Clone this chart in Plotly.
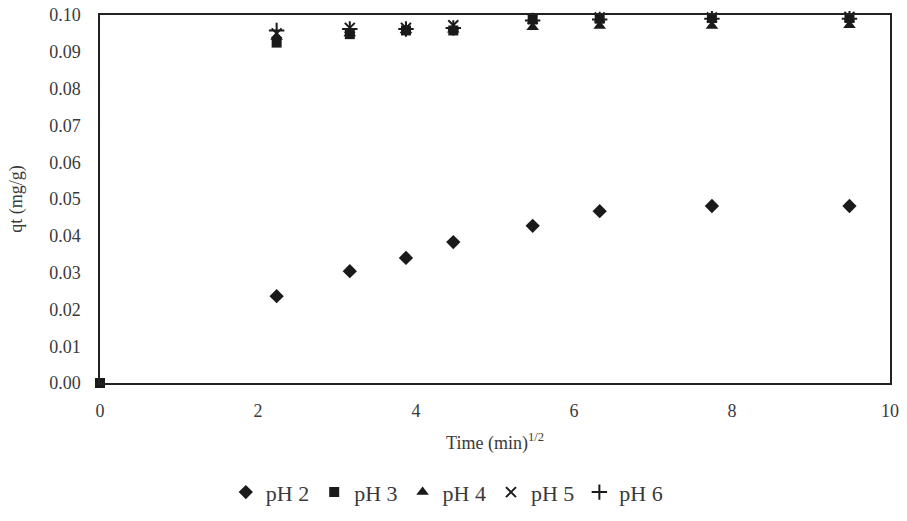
import plotly.graph_objects as go

x_time = [0, 2.236, 3.162, 3.873, 4.472, 5.477, 6.325, 7.746, 9.487]
x_top = [2.236, 3.162, 3.873, 4.472, 5.477, 6.325, 7.746, 9.487]
ph2 = [0.0236, 0.0304, 0.0340, 0.0383, 0.0427, 0.0467, 0.0481, 0.0481]
ph3 = [0.0, 0.0925, 0.0948, 0.0958, 0.0958, 0.0988, 0.0990, 0.0992, 0.0992]
ph4 = [0.0940, 0.0950, 0.0958, 0.0960, 0.0967, 0.0970, 0.0970, 0.0972]
ph5 = [0.0950, 0.0965, 0.0965, 0.0972, 0.0990, 0.0993, 0.0993, 0.0995]
ph6 = [0.0958, 0.0962, 0.0962, 0.0965, 0.0985, 0.0988, 0.0990, 0.0990]
y_ticks = [0.00, 0.01, 0.02, 0.03, 0.04, 0.05, 0.06, 0.07, 0.08, 0.09, 0.10]
x_ticks = [0, 2, 4, 6, 8, 10]

FONT = "Liberation Serif"
C = "#1a1a1a"
TXT = "#3a3a3a"

fig = go.Figure()
fig.add_trace(go.Scatter(x=x_top, y=ph2, mode="markers", name="pH 2",
                         marker=dict(symbol="diamond", size=11, color=C), cliponaxis=False))
fig.add_trace(go.Scatter(x=x_time, y=ph3, mode="markers", name="pH 3",
                         marker=dict(symbol="square", size=10, color=C), cliponaxis=False))
fig.add_trace(go.Scatter(x=x_top, y=ph4, mode="markers", name="pH 4",
                         marker=dict(symbol="triangle-up", size=11, color=C), cliponaxis=False))
fig.add_trace(go.Scatter(x=x_top, y=ph5, mode="markers", name="pH 5",
                         marker=dict(symbol="x-thin", size=10, color=C,
                                     line=dict(width=2, color=C)), cliponaxis=False))
fig.add_trace(go.Scatter(x=x_top, y=ph6, mode="markers", name="pH 6",
                         marker=dict(symbol="cross-thin", size=11, color=C,
                                     line=dict(width=2, color=C)), cliponaxis=False))

fig.update_layout(
    width=907, height=521,
    margin=dict(l=100, r=17, t=15, b=138, autoexpand=False),
    paper_bgcolor="white", plot_bgcolor="white",
    font=dict(family=FONT, size=18, color=TXT),
    showlegend=True,
    legend=dict(orientation="h", x=0.439, xanchor="center",
                y=-0.24, yanchor="top",
                font=dict(family=FONT, size=22, color=TXT),
                itemwidth=30, tracegroupgap=0),
    xaxis=dict(range=[0, 10], tickvals=x_ticks, ticktext=[str(v) for v in x_ticks],
               showgrid=False, zeroline=False, showline=True, mirror=True,
               linecolor="#222222", linewidth=1.5, ticks="", ticklen=0,
               automargin=False, ticklabelstandoff=11,
               tickfont=dict(family=FONT, size=18, color=TXT),
               title=dict(text="Time (min)<sup>1/2</sup>", standoff=16,
                          font=dict(family=FONT, size=18, color=TXT))),
    yaxis=dict(range=[0, 0.10], tickvals=y_ticks, ticktext=[f"{v:.2f}" for v in y_ticks],
               showgrid=False, zeroline=False, showline=True, mirror=True,
               linecolor="#222222", linewidth=1.5, ticks="", ticklen=0,
               automargin=False, ticklabelstandoff=14,
               tickfont=dict(family=FONT, size=18, color=TXT),
               title=dict(text="qt (mg/g)", standoff=22,
                          font=dict(family=FONT, size=18, color=TXT))),
)

fig.write_html("out.html", config={"displayModeBar": False},
               post_script="document.body.style.margin='0';document.body.style.overflow='hidden';")
